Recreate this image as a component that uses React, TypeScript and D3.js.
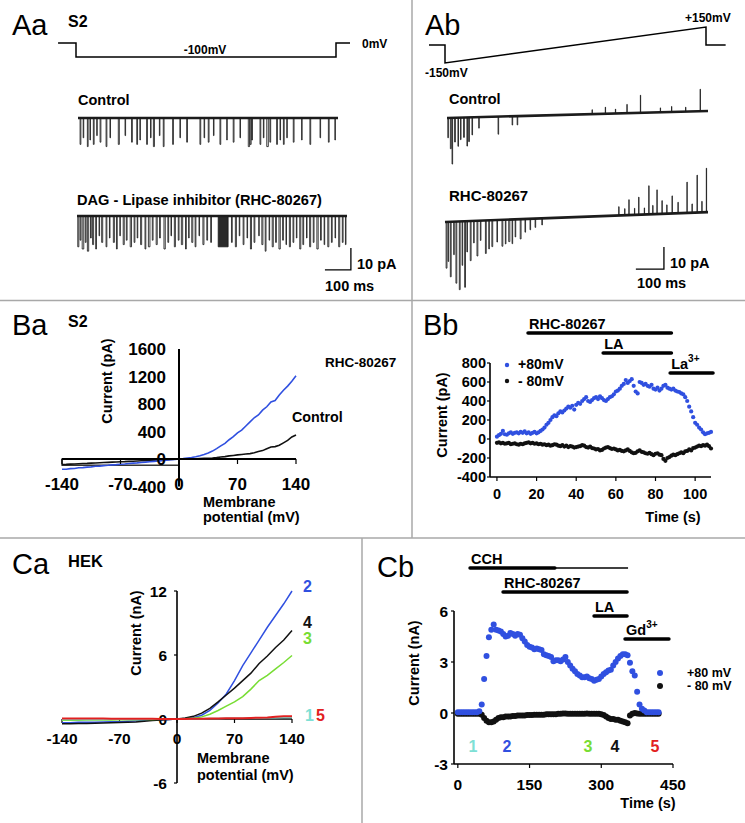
import React from 'react';
import * as d3 from 'd3';

const W = 745;
const H = 823;
const FONT = '"Liberation Sans", Arial, Helvetica, sans-serif';
const BLUE = '#3050e0';
const GREEN = '#77dd33';
const CYAN = '#7ee0d5';
const RED = '#e22020';
const TRACE = '#1c1c1c';

// ---- A: single channel recordings, events are [start ms, duration ms, amplitude pA]
const aaProtocol = [[-69, 0], [0, 0], [0, -100], [1000, -100], [1000, 0], [1054, 0]];
const aaControlEvents = [
  [8, 3, -12], [20, 2, -9], [36, 3, -13], [46, 2, -10], [59, 3, -12], [72, 2, -8], [85, 3, -11],
  [108, 3, -13], [123, 2, -9], [155, 4, -12], [181, 2, -8], [206, 3, -11], [226, 3, -12], [238, 2, -10],
  [264, 3, -12], [279, 2, -9], [290, 4, -13], [313, 2, -8], [328, 3, -13], [364, 3, -12], [392, 2, -9],
  [418, 3, -11], [469, 3, -12], [485, 2, -9], [501, 3, -11], [521, 2, -8], [546, 3, -12], [572, 2, -10],
  [597, 3, -11], [623, 2, -9], [655, 5, -13], [662, 4, -12], [668, 3, -10], [700, 3, -12], [713, 2, -9],
  [726, 6, -13], [738, 3, -11], [764, 3, -12], [777, 2, -10], [790, 3, -12], [803, 2, -9], [828, 3, -11],
  [860, 2, -10], [892, 3, -12], [931, 2, -9], [963, 3, -11], [988, 2, -10],
];
const aaDagEvents = [
  [3, 4, -14], [12, 3, -11], [20, 6, -15], [32, 3, -12], [40, 5, -16], [52, 3, -10], [60, 4, -13],
  [72, 3, -15], [85, 2, -9], [95, 4, -12], [112, 3, -14], [125, 2, -10], [140, 4, -12], [152, 3, -15],
  [165, 2, -9], [178, 4, -13], [190, 3, -11], [205, 5, -14], [220, 3, -12], [232, 2, -10], [245, 4, -13],
  [262, 3, -15], [275, 6, -14], [290, 3, -11], [305, 4, -13], [318, 3, -10], [335, 5, -15], [350, 3, -12],
  [362, 2, -9], [375, 4, -14], [390, 3, -11], [402, 5, -13], [418, 3, -15], [430, 2, -10], [442, 4, -12],
  [455, 3, -14], [470, 2, -9], [485, 4, -13], [500, 3, -11], [515, 3, -12], [544, 38, -14], [595, 3, -12],
  [610, 4, -14], [625, 2, -9], [640, 3, -13], [655, 2, -10], [668, 4, -15], [682, 3, -12], [700, 2, -9],
  [712, 4, -13], [725, 3, -16], [740, 2, -11], [752, 4, -14], [765, 3, -12], [778, 5, -15], [792, 3, -11],
  [805, 2, -13], [818, 4, -14], [832, 3, -12], [845, 2, -10], [858, 4, -15], [870, 3, -13], [884, 2, -10],
  [896, 4, -14], [910, 3, -12], [924, 5, -15], [938, 3, -11], [952, 2, -13], [966, 4, -14], [980, 3, -12],
  [994, 2, -10], [1008, 4, -14], [1022, 3, -12], [1034, 2, -13],
];
const abProtocol = [[-57, 0], [0, 0], [0, -150], [930, 150], [930, 0], [1000, 0]];
const abControlEvents = [
  [3, 2, -9], [12, 3, -14], [18, 2, -21], [27, 3, -11], [39, 2, -13], [48, 2, -10], [59, 3, -9],
  [71, 2, -13], [77, 3, -11], [89, 2, -8], [113, 2, -5], [182, 2, -8], [232, 2, -4], [250, 2, -4],
  [517, 1, 2], [564, 1, 3], [600, 1, 2], [641, 1, 4], [689, 1, 8], [760, 1, 2], [800, 1, 2.5],
  [850, 1, 2], [902, 1, 10],
];
const abRhcEvents = [
  [4, 3, -21], [11, 2, -18], [19, 3, -25], [31, 2, -15], [39, 3, -28], [51, 3, -31], [61, 2, -20],
  [70, 3, -30], [78, 2, -14], [90, 3, -18], [102, 2, -10], [114, 3, -16], [126, 2, -9], [144, 3, -15],
  [156, 2, -13], [167, 3, -12], [185, 2, -10], [203, 3, -12], [215, 2, -11], [227, 4, -10], [239, 2, -11],
  [250, 2, -8], [268, 3, -9], [285, 2, -6], [303, 2, -5], [321, 2, -4], [345, 2, -3],
  [619, 1, 4], [640, 1, 3], [655, 1, 7], [675, 1, 3], [690, 1, 8], [710, 1, 3], [726, 1, 13],
  [740, 1, 4], [755, 1, 11], [773, 1, 6], [790, 1, 4], [809, 1, 8], [830, 1, 5], [862, 1, 14],
  [880, 1, 4], [898, 1, 17], [915, 1, 5], [931, 1, 20],
];

// ---- Ba: I-V curves (pA), 5 mV steps
const baVm = d3.range(-140, 141, 5);
const baRhc = [
  -150, -148, -140, -138, -128, -126, -118, -115, -106, -104, -96, -92, -86, -82, -76, -72, -66, -60,
  -56, -50, -46, -40, -34, -28, -23, -17, -11, -6,
  0, 6, 14, 22, 34, 48, 66, 88, 115, 150, 190, 228, 280, 325, 380, 420, 480, 540, 600, 640, 710, 760,
  830, 850, 930, 1000, 1060, 1130, 1210,
];
const baControl = [
  -80, -78, -74, -72, -69, -66, -64, -60, -58, -54, -52, -49, -46, -44, -40, -38, -34, -32, -29, -26,
  -24, -20, -18, -14, -12, -9, -6, -3,
  0, 1, 2, 3, 4, 6, 9, 11, 14, 20, 28, 35, 45, 52, 60, 66, 72, 78, 92, 108, 122, 150, 175, 180, 200,
  235, 270, 320, 350,
];
const baXTicks = [-140, -70, 0, 70, 140];
const baYTicks = [-400, 0, 400, 800, 1200, 1600];

// ---- Bb: time course (pA), one point per second
const bbTime = d3.range(0, 109);
const bbPlus80 = [
  25, 40, 55, 85, 50, 45, 60, 70, 55, 65, 70, 60, 75, 65, 80, 60, 70, 55, 65, 75,
  60, 70, 85, 100, 120, 150, 170, 200, 230, 250, 240, 270, 290, 280, 300, 320, 340, 330, 350, 310,
  360, 380, 370, 400, 420, 440, 400, 390, 410, 430, 440, 420, 450, 430, 410, 400, 420, 440, 450, 470,
  500, 510, 530, 560, 580, 620, 590, 610, 630, 560, 500, 480, 600, 590, 570, 580, 560, 550, 570, 530,
  520, 540, 510, 530, 560, 570, 540, 530, 520, 530, 510, 500, 495, 480, 470, 440, 400, 340, 290, 230,
  170, 150, 120, 100, 70, 50, 60, 65, 75,
];
const bbMinus80 = [
  -40, -35, -45, -40, -50, -45, -40, -55, -50, -45, -55, -60, -50, -55, -45, -40, -35, -45, -40, -50,
  -45, -55, -50, -60, -55, -65, -60, -70, -65, -55, -60, -70, -75, -65, -80, -70, -85, -75, -80, -90,
  -85, -80, -75, -65, -70, -85, -90, -80, -95, -100, -110, -105, -120, -115, -100, -90, -85, -95, -105, -100,
  -110, -120, -115, -125, -130, -120, -110, -125, -140, -150, -145, -130, -120, -135, -140, -150, -155, -145, -160, -170,
  -155, -150, -165, -170, -210, -230, -200, -190, -175, -165, -170, -160, -150, -140, -150, -130, -125, -110, -120, -95,
  -90, -80, -70, -75, -65, -70, -60, -75, -100,
];
const bbXTicks = [0, 20, 40, 60, 80, 100];
const bbYTicks = [-400, -200, 0, 200, 400, 600, 800];
const bbBars = [
  { label: 'RHC-80267', sup: '', start: 15.7, end: 88 },
  { label: 'LA', sup: '', start: 53.6, end: 88 },
  { label: 'La', sup: '3+', start: 87.4, end: 109 },
];

// ---- Ca: HEK I-V curves (nA), 10 mV steps
const caVm = d3.range(-140, 141, 10);
const caTrace2 = [
  -0.35, -0.35, -0.3, -0.3, -0.3, -0.28, -0.25, -0.25, -0.2, -0.18, -0.15, -0.1, -0.08, -0.04,
  0, 0.05, 0.12, 0.35, 0.8, 1.5, 2.35, 3.6, 5.0, 6.2, 7.4, 8.6, 9.7, 10.8, 12.0,
];
const caTrace4 = [
  -0.45, -0.45, -0.42, -0.42, -0.4, -0.38, -0.35, -0.33, -0.3, -0.28, -0.22, -0.15, -0.1, -0.05,
  0, 0.1, 0.25, 0.55, 1.0, 1.6, 2.25, 2.9, 3.6, 4.3, 5.2, 5.9, 6.7, 7.4, 8.3,
];
const caTrace3 = [
  -0.12, -0.12, -0.12, -0.1, -0.1, -0.1, -0.1, -0.08, -0.08, -0.06, -0.05, -0.04, -0.03, -0.02,
  0, 0.03, 0.08, 0.2, 0.45, 0.8, 1.2, 1.6, 2.1, 2.8, 3.6, 4.1, 4.7, 5.3, 5.95,
];
const caTrace1 = [
  -0.05, -0.05, -0.05, -0.04, -0.04, -0.04, -0.03, -0.03, -0.03, -0.02, -0.02, -0.01, -0.01, 0,
  0, 0.01, 0.02, 0.03, 0.04, 0.05, 0.06, 0.07, 0.08, 0.09, 0.1, 0.11, 0.12, 0.14, 0.15,
];
const caTrace5 = [
  0.05, 0.05, 0.05, 0.04, 0.04, 0.04, 0.03, 0.03, 0.03, 0.02, 0.02, 0.02, 0.01, 0.01,
  0, 0.01, 0.02, 0.03, 0.04, 0.05, 0.06, 0.07, 0.08, 0.1, 0.12, 0.15, 0.2, 0.25, 0.25,
];
const caXTicks = [-140, -70, 0, 70, 140];
const caYTicks = [-6, 0, 6, 12];

// ---- Cb: time course (nA), every 5 s
const cbTime = d3.range(0, 421, 5);
const cbPlus80 = [
  0.05, 0.05, 0.05, 0.05, 0.05, 0.05, 0.05, 0.05, 0.05, 0.1,
  0.5, 2.0, 3.35, 4.45, 4.9, 5.2, 4.9, 4.85, 4.8, 4.65,
  4.5, 4.55, 4.7, 4.65, 4.55, 4.65, 4.6, 4.4, 4.2, 4.0,
  3.9, 3.85, 3.75, 3.8, 3.75, 3.7, 3.45, 3.4, 3.35, 3.3,
  3.05, 3.1, 3.1, 3.05, 3.15, 3.3, 3.0, 2.8, 2.6, 2.45,
  2.3, 2.2, 2.1, 2.1, 2.15, 2.05, 2.0, 1.9, 1.95, 2.0,
  2.15, 2.3, 2.4, 2.5, 2.55, 2.8, 3.0, 3.2, 3.35, 3.45,
  3.45, 3.4, 2.95, 2.45, 2.2, 1.25, 0.5, 0.25, 0.15, 0.05,
  0.05, 0.05, 0.05, 0.05, 0.05,
];
const cbMinus80 = [
  -0.05, -0.05, -0.05, -0.05, -0.05, -0.05, -0.05, -0.05, -0.05, -0.05,
  -0.1, -0.3, -0.45, -0.55, -0.55, -0.5, -0.4, -0.3, -0.25, -0.25,
  -0.2, -0.2, -0.2, -0.18, -0.18, -0.15, -0.15, -0.15, -0.15, -0.12,
  -0.12, -0.12, -0.1, -0.1, -0.1, -0.1, -0.1, -0.08, -0.08, -0.08,
  -0.08, -0.08, -0.05, -0.05, -0.03, -0.03, -0.05, -0.05, -0.05, -0.05,
  -0.05, -0.05, -0.05, -0.05, -0.03, -0.05, -0.05, -0.05, -0.05, -0.05,
  -0.08, -0.12, -0.2, -0.3, -0.35, -0.35, -0.4, -0.4, -0.45, -0.5,
  -0.55, -0.6, -0.15, -0.05, 0, -0.03, -0.05, -0.05, -0.05, -0.05,
  -0.05, -0.05, -0.05, -0.05, -0.05,
];
const cbXTicks = [0, 150, 300, 450];
const cbYTicks = [-3, 0, 3, 6];
const cbBars = [
  { label: 'CCH', sup: '', start: 25.5, end: 203, thinEnd: 356 },
  { label: 'RHC-80267', sup: '', start: 94.5, end: 354, thinEnd: 0 },
  { label: 'LA', sup: '', start: 284.8, end: 354, thinEnd: 0 },
  { label: 'Gd', sup: '3+', start: 349.6, end: 441.6, thinEnd: 0 },
];
const cbMarkers = [
  { text: '1', t: 31.7, color: CYAN },
  { text: '2', t: 102.8, color: BLUE },
  { text: '3', t: 272, color: GREEN },
  { text: '4', t: 328.7, color: '#111' },
  { text: '5', t: 412, color: RED },
];

type Scale = d3.ScaleLinear<number, number>;

function tracePath(events: number[][], x: Scale, y: Scale, dur: number, drift: number) {
  const base = (t: number) => (drift * t) / dur;
  const sorted = [...events].sort((a, b) => a[0] - b[0]);
  const p = d3.path();
  p.moveTo(x(0), y(base(0)));
  sorted.forEach(([t, w, a]) => {
    const b = base(t);
    p.lineTo(x(t), y(b));
    p.lineTo(x(t), y(b + a));
    p.lineTo(x(t + w), y(b + a));
    p.lineTo(x(t + w), y(base(t + w)));
  });
  p.lineTo(x(dur), y(base(dur)));
  return p.toString();
}

function Trace({ events, x, y, dur, drift }: any) {
  // long openings show as a dark block in the recording
  const longOnes = events.filter((e: number[]) => e[1] > 10);
  return (
    <g fill="none" stroke={TRACE}>
      {longOnes.map((e: number[]) => (
        <rect key={e[0]} x={x(e[0])} y={y(0)} width={x(e[0] + e[1]) - x(e[0])} height={y(e[2]) - y(0)} fill="#2a2a2a" stroke="none" />
      ))}
      <line x1={x(0)} y1={y(0)} x2={x(dur)} y2={y(drift)} strokeWidth={2.6} />
      <path d={tracePath(events, x, y, dur, drift)} strokeWidth={1} strokeOpacity={0.85} />
    </g>
  );
}

function Txt({ x, y, size = 14.5, weight = 'bold', anchor = 'start', fill = '#000', children }: any) {
  return (
    <text x={x} y={y} fontSize={size} fontWeight={weight} textAnchor={anchor} fill={fill}>
      {children}
    </text>
  );
}

function VLabel({ x, y, children }: any) {
  return (
    <text transform={`translate(${x},${y}) rotate(-90)`} fontSize={14.5} fontWeight="bold" textAnchor="middle">
      {children}
    </text>
  );
}

function ScaleBar({ x, y, t0, t1, v0, v1 }: any) {
  return (
    <path
      d={`M${x(t0)},${y(v1)}H${x(t1)}V${y(v0)}`}
      fill="none"
      stroke="#000"
      strokeWidth={1.3}
    />
  );
}

function PanelAa() {
  const px = d3.scaleLinear().domain([0, 1000]).range([76, 336]);
  const py = d3.scaleLinear().domain([-100, 0]).range([57, 43]);
  const proto = d3.line<number[]>().x(d => px(d[0])).y(d => py(d[1]));
  const xc = d3.scaleLinear().domain([0, 1000]).range([78, 338]);
  const yc = d3.scaleLinear().domain([0, -10]).range([118, 140]);
  const xd = d3.scaleLinear().domain([0, 1040]).range([77, 347]);
  const yd = d3.scaleLinear().domain([0, -10]).range([216, 238]);
  return (
    <g>
      <Txt x={12} y={35} size={29} weight="normal">Aa</Txt>
      <Txt x={68} y={27} size={16}>S2</Txt>
      <path d={proto(aaProtocol) || ''} fill="none" stroke="#000" strokeWidth={1.5} />
      <Txt x={205} y={54} size={12} anchor="middle">-100mV</Txt>
      <Txt x={362} y={48} size={12}>0mV</Txt>
      <Txt x={78} y={105}>Control</Txt>
      <Trace events={aaControlEvents} x={xc} y={yc} dur={1000} drift={0} />
      <Txt x={77} y={205} size={14.6}>DAG - Lipase inhibitor (RHC-80267)</Txt>
      <Trace events={aaDagEvents} x={xd} y={yd} dur={1040} drift={0} />
      <ScaleBar x={xd} y={yd} t0={955} t1={1055} v0={-14.5} v1={-24.5} />
      <Txt x={357} y={269}>10 pA</Txt>
      <Txt x={325} y={291}>100 ms</Txt>
    </g>
  );
}

function PanelAb() {
  const px = d3.scaleLinear().domain([0, 930]).range([445, 706]);
  const py = d3.scaleLinear().domain([-150, 150]).range([63, 27]);
  const proto = d3.line<number[]>().x(d => px(d[0])).y(d => py(d[1]));
  const xc = d3.scaleLinear().domain([0, 930]).range([447, 708]);
  const yc = d3.scaleLinear().domain([0, -10]).range([118, 140]);
  const xr = d3.scaleLinear().domain([0, 937]).range([445, 708]);
  const yr = d3.scaleLinear().domain([0, -10]).range([222, 244]);
  return (
    <g>
      <Txt x={425} y={35} size={29} weight="normal">Ab</Txt>
      <path d={proto(abProtocol) || ''} fill="none" stroke="#000" strokeWidth={1.5} />
      <Txt x={685} y={22} size={12}>+150mV</Txt>
      <Txt x={425} y={77} size={12}>-150mV</Txt>
      <Txt x={449} y={104}>Control</Txt>
      <Trace events={abControlEvents} x={xc} y={yc} dur={930} drift={3.2} />
      <Txt x={449} y={201} size={15}>RHC-80267</Txt>
      <Trace events={abRhcEvents} x={xr} y={yr} dur={937} drift={4.5} />
      <ScaleBar x={xr} y={yr} t0={680} t1={780} v0={-11.4} v1={-21.4} />
      <Txt x={670} y={268}>10 pA</Txt>
      <Txt x={637} y={288}>100 ms</Txt>
    </g>
  );
}

function PanelBa() {
  const x = d3.scaleLinear().domain([-140, 140]).range([62, 296]);
  const y = d3.scaleLinear().domain([-400, 1600]).range([486.5, 349]);
  const line = d3.line<number>().x((_, i) => x(baVm[i])).y(d => y(d));
  return (
    <g>
      <Txt x={12} y={335} size={29} weight="normal">Ba</Txt>
      <Txt x={68} y={327} size={16}>S2</Txt>
      <rect x={x(-140)} y={y(0)} width={x(0) - x(-140)} height={y(-90) - y(0)} fill="none" stroke="#000" strokeWidth={1.2} />
      <path d={line(baControl) || ''} fill="none" stroke="#111" strokeWidth={1.6} />
      <path d={line(baRhc) || ''} fill="none" stroke={BLUE} strokeWidth={1.6} />
      <line x1={x(-140)} x2={x(140)} y1={y(0)} y2={y(0)} stroke="#000" strokeWidth={1.8} />
      <line x1={x(0)} x2={x(0)} y1={y(1600)} y2={y(-400)} stroke="#000" strokeWidth={2} />
      {baXTicks.map(t => (
        <g key={t}>
          <line x1={x(t)} x2={x(t)} y1={y(0)} y2={y(0) + 5} stroke="#000" strokeWidth={1.2} />
          <Txt x={x(t)} y={490} size={17} anchor="middle">{t}</Txt>
        </g>
      ))}
      {baYTicks.map(v => (
        <Txt key={v} x={x(0) - 13} y={y(v) + 6} size={17} anchor="end">{v}</Txt>
      ))}
      <VLabel x={112} y={381}>Current (pA)</VLabel>
      <Txt x={203} y={507}>Membrane</Txt>
      <Txt x={203} y={522}>potential (mV)</Txt>
      <Txt x={325} y={367} size={13.5}>RHC-80267</Txt>
      <Txt x={292} y={422} size={14.3}>Control</Txt>
    </g>
  );
}

function Bars({ bars, x, rows, thick }: any) {
  return (
    <g>
      {bars.map((b: any, i: number) => (
        <g key={b.label}>
          <text x={x(b.start) + 1} y={rows[i] - 4} fontSize={14.5} fontWeight="bold">
            {b.label}
            {b.sup && <tspan dy={-7} fontSize={10}>{b.sup}</tspan>}
          </text>
          <line x1={x(b.start)} x2={x(b.end)} y1={rows[i]} y2={rows[i]} stroke="#000" strokeWidth={thick} strokeLinecap="round" />
          {b.thinEnd > 0 && (
            <line x1={x(b.end)} x2={x(b.thinEnd)} y1={rows[i]} y2={rows[i]} stroke="#000" strokeWidth={1.4} />
          )}
        </g>
      ))}
    </g>
  );
}

function PanelBb() {
  const x = d3.scaleLinear().domain([-3.5, 108]).range([490, 711]);
  const y = d3.scaleLinear().domain([-400, 800]).range([477, 363]);
  return (
    <g>
      <Txt x={423} y={335} size={29} weight="normal">Bb</Txt>
      <Bars bars={bbBars} x={x} rows={[333, 353, 373]} thick={3.6} />
      {bbTime.map((t, i) => (
        <circle key={'k' + t} cx={x(t)} cy={y(bbMinus80[i])} r={2.1} fill="#111" />
      ))}
      {bbTime.map((t, i) => (
        <circle key={'b' + t} cx={x(t)} cy={y(bbPlus80[i])} r={2.1} fill={BLUE} />
      ))}
      <line x1={x(-3.5)} x2={x(-3.5)} y1={y(800)} y2={y(-400)} stroke="#000" strokeWidth={1.6} />
      <line x1={x(-3.5)} x2={x(108)} y1={y(-400)} y2={y(-400)} stroke="#000" strokeWidth={1.6} />
      {bbXTicks.map(t => (
        <g key={t}>
          <line x1={x(t)} x2={x(t)} y1={y(-400)} y2={y(-400) + 4} stroke="#000" strokeWidth={1.2} />
          <Txt x={x(t)} y={499} size={14.5} anchor="middle">{t}</Txt>
        </g>
      ))}
      {bbYTicks.map(v => (
        <g key={v}>
          <line x1={x(-3.5) - 3} x2={x(-3.5)} y1={y(v)} y2={y(v)} stroke="#000" strokeWidth={1.2} />
          <Txt x={486} y={y(v) + 5} size={14.5} anchor="end">{v}</Txt>
        </g>
      ))}
      <VLabel x={447} y={415}>Current (pA)</VLabel>
      <Txt x={673} y={522} anchor="middle">Time (s)</Txt>
      <circle cx={507} cy={365} r={2.2} fill={BLUE} />
      <Txt x={518} y={369} size={14}>+80mV</Txt>
      <circle cx={507} cy={381} r={2.2} fill="#111" />
      <Txt x={518} y={386} size={14}>- 80mV</Txt>
    </g>
  );
}

function PanelCa() {
  const x = d3.scaleLinear().domain([-140, 140]).range([62, 292]);
  const y = d3.scaleLinear().domain([-6, 12]).range([783, 591]);
  const line = d3.line<number>().x((_, i) => x(caVm[i])).y(d => y(d));
  const curves = [
    { d: caTrace2, c: BLUE },
    { d: caTrace4, c: '#111' },
    { d: caTrace3, c: GREEN },
    { d: caTrace1, c: CYAN },
    { d: caTrace5, c: RED },
  ];
  return (
    <g>
      <Txt x={12} y={574} size={29} weight="normal">Ca</Txt>
      <Txt x={68} y={567} size={16.5}>HEK</Txt>
      <line x1={x(-140)} x2={x(140)} y1={y(0)} y2={y(0)} stroke="#000" strokeWidth={1.4} />
      <line x1={x(0)} x2={x(0)} y1={y(12)} y2={y(-6)} stroke="#000" strokeWidth={1.6} />
      {caXTicks.map(t => (
        <g key={t}>
          <line x1={x(t)} x2={x(t)} y1={y(0)} y2={y(0) + 4} stroke="#000" strokeWidth={1.2} />
          <Txt x={x(t)} y={744} size={15.5} anchor="middle">{t}</Txt>
        </g>
      ))}
      {caYTicks.map(v => (
        <g key={v}>
          <line x1={x(0) - 3} x2={x(0)} y1={y(v)} y2={y(v)} stroke="#000" strokeWidth={1.2} />
          <Txt x={167} y={y(v) + 5.5} size={15.5} anchor="end">{v}</Txt>
        </g>
      ))}
      {curves.map((c, i) => (
        <path key={i} d={line(c.d) || ''} fill="none" stroke={c.c} strokeWidth={i === 4 ? 2 : 1.5} />
      ))}
      <VLabel x={141} y={633}>Current (nA)</VLabel>
      <Txt x={197} y={763}>Membrane</Txt>
      <Txt x={197} y={780}>potential (mV)</Txt>
      <Txt x={x(140) + 11} y={y(11.9)} size={16} fill={BLUE}>2</Txt>
      <Txt x={x(140) + 11} y={y(8.5)} size={16} fill="#111">4</Txt>
      <Txt x={x(140) + 11} y={y(7.0)} size={16} fill={GREEN}>3</Txt>
      <Txt x={x(140) + 13} y={y(-0.2)} size={16} fill={CYAN}>1</Txt>
      <Txt x={x(140) + 24} y={y(-0.2)} size={16} fill={RED}>5</Txt>
    </g>
  );
}

function PanelCb() {
  const x = d3.scaleLinear().domain([-8, 450]).range([454, 673]);
  const y = d3.scaleLinear().domain([-3, 6]).range([764, 611]);
  return (
    <g>
      <Txt x={377} y={577} size={29} weight="normal">Cb</Txt>
      <Bars bars={cbBars} x={x} rows={[568, 592, 616, 639]} thick={3.4} />
      {cbTime.map((t, i) => (
        <circle key={'k' + t} cx={x(t)} cy={y(cbMinus80[i])} r={3} fill="#111" />
      ))}
      {cbTime.map((t, i) => (
        <circle key={'b' + t} cx={x(t)} cy={y(cbPlus80[i])} r={3} fill={BLUE} />
      ))}
      <line x1={x(-8)} x2={x(-8)} y1={y(6)} y2={y(-3)} stroke="#000" strokeWidth={1.6} />
      <line x1={x(-8)} x2={x(450)} y1={y(-3)} y2={y(-3)} stroke="#000" strokeWidth={1.6} />
      {cbXTicks.map(t => (
        <g key={t}>
          <line x1={x(t)} x2={x(t)} y1={y(-3)} y2={y(-3) + 4} stroke="#000" strokeWidth={1.2} />
          <Txt x={x(t)} y={790} size={15.5} anchor="middle">{t}</Txt>
        </g>
      ))}
      {cbYTicks.map(v => (
        <g key={v}>
          <line x1={x(-8) - 3} x2={x(-8)} y1={y(v)} y2={y(v)} stroke="#000" strokeWidth={1.2} />
          <Txt x={448} y={y(v) + 5.5} size={15.5} anchor="end">{v}</Txt>
        </g>
      ))}
      <VLabel x={419} y={663}>Current (nA)</VLabel>
      <Txt x={648} y={808} anchor="middle">Time (s)</Txt>
      {cbMarkers.map(m => (
        <Txt key={m.text} x={x(m.t)} y={y(-2.3)} size={16} anchor="middle" fill={m.color}>{m.text}</Txt>
      ))}
      <circle cx={660} cy={673} r={3} fill={BLUE} />
      <Txt x={687} y={677} size={12.5}>+80 mV</Txt>
      <circle cx={660} cy={686} r={3} fill="#111" />
      <Txt x={687} y={690} size={12.5}>- 80 mV</Txt>
    </g>
  );
}

export default function App() {
  return (
    <svg
      width={W}
      height={H}
      style={{ position: 'absolute', left: 0, top: 0, background: '#fff' }}
      fontFamily={FONT}
    >
      <rect width={W} height={H} fill="#fff" />
      <g stroke="#a8a8a8" strokeWidth={1.5}>
        <line x1={412} x2={412} y1={0} y2={538} />
        <line x1={0} x2={W} y1={300.5} y2={300.5} />
        <line x1={0} x2={W} y1={538} y2={538} />
        <line x1={362} x2={362} y1={538} y2={H} />
      </g>
      <PanelAa />
      <PanelAb />
      <PanelBa />
      <PanelBb />
      <PanelCa />
      <PanelCb />
    </svg>
  );
}
